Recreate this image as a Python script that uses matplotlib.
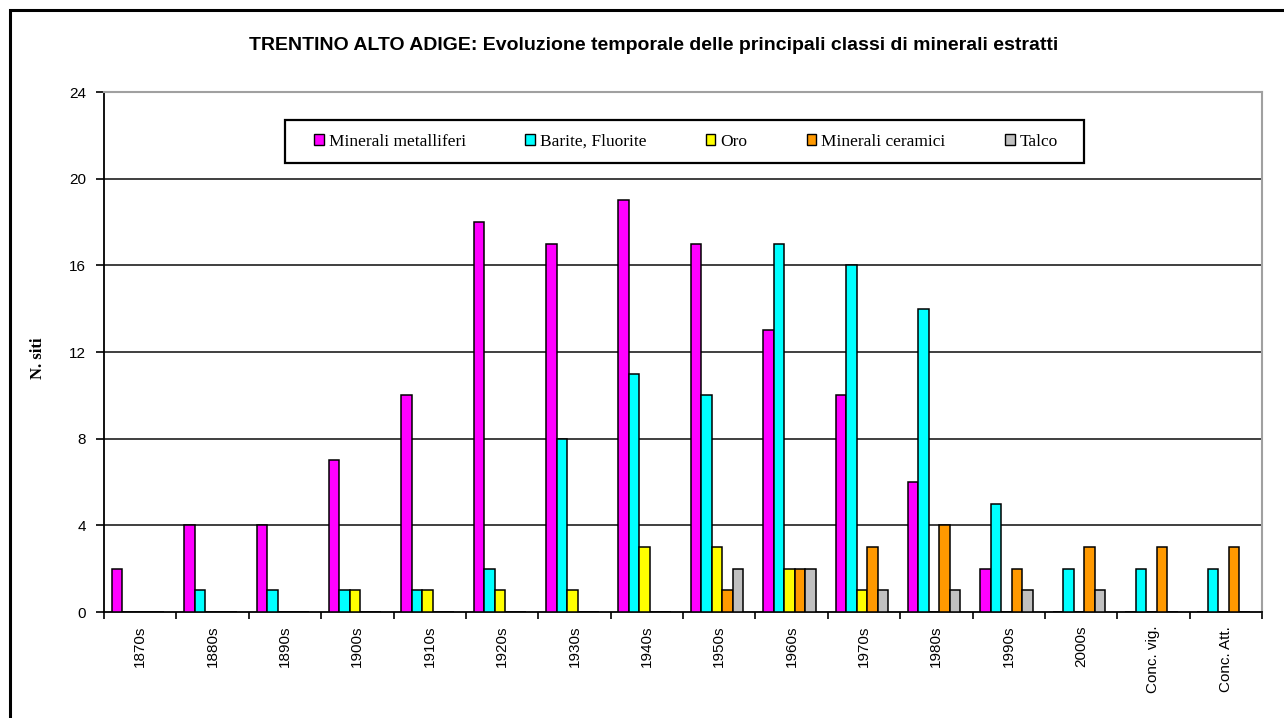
import numpy as np
import matplotlib
matplotlib.use("Agg")
import matplotlib.pyplot as plt
from matplotlib.patches import Patch, Rectangle

categories = ["1870s", "1880s", "1890s", "1900s", "1910s", "1920s", "1930s",
              "1940s", "1950s", "1960s", "1970s", "1980s", "1990s", "2000s",
              "Conc. vig.", "Conc. Att."]

series_names = ["Minerali metalliferi", "Barite, Fluorite", "Oro",
                "Minerali ceramici", "Talco"]

metalliferi = [2, 4, 4, 7, 10, 18, 17, 19, 17, 13, 10, 6, 2, 0, 0, 0]
barite_fluorite = [0, 1, 1, 1, 1, 2, 8, 11, 10, 17, 16, 14, 5, 2, 2, 2]
oro = [0, 0, 0, 1, 1, 1, 1, 3, 3, 2, 1, 0, 0, 0, 0, 0]
ceramici = [0, 0, 0, 0, 0, 0, 0, 0, 1, 2, 3, 4, 2, 3, 3, 3]
talco = [0, 0, 0, 0, 0, 0, 0, 0, 2, 2, 1, 1, 1, 1, 0, 0]

colors = ["#FF00FF", "#00FFFF", "#FFFF00", "#FF9900", "#C0C0C0"]
y_ticks = [0, 4, 8, 12, 16, 20, 24]

W, H = 1284, 718
fig = plt.figure(figsize=(W / 100, H / 100), dpi=100)
fig.patch.set_facecolor("white")

# outer chart frame (left and top edges visible)
fig.patches.append(Rectangle((10 / W, -0.2), 1.2, 1 - 10 / H + 0.2,
                             transform=fig.transFigure, fill=False,
                             edgecolor="black", linewidth=2.2, zorder=0))

ax_l, ax_r, ax_t, ax_b = 104, 1262, 92, 612
ax = fig.add_axes([ax_l / W, 1 - ax_b / H, (ax_r - ax_l) / W, (ax_b - ax_t) / H])

x = np.arange(len(categories))
bar_w = 0.145
all_series = [metalliferi, barite_fluorite, oro, ceramici, talco]
for i, (vals, col) in enumerate(zip(all_series, colors)):
    offs = (i - 2.2) * bar_w
    ax.bar(x + offs, vals, width=bar_w, color=col, edgecolor="black",
           linewidth=1.1, zorder=3)

ax.set_xlim(-0.5, len(categories) - 0.5)
ax.set_ylim(0, 24)
ax.set_yticks(y_ticks)
ax.set_yticklabels([str(v) for v in y_ticks], fontsize=11,
                   family="Liberation Sans")
for v in y_ticks[1:-1]:
    ax.axhline(v, color="#303030", linewidth=1.3, zorder=1)

ax.set_xticks(x)
ax.set_xticklabels(categories, rotation=90, fontsize=11,
                   family="Liberation Sans", va="top")
ax.set_xticks(np.arange(len(categories) + 1) - 0.5, minor=True)
ax.tick_params(axis="x", which="major", length=0, pad=10)
ax.tick_params(axis="x", which="minor", length=5, width=1.2, direction="out")
ax.tick_params(axis="y", length=6, width=1.2, direction="out", pad=7)

for side in ["top", "right"]:
    ax.spines[side].set_color("#a0a0a0")
    ax.spines[side].set_linewidth(1.5)
for side in ["left", "bottom"]:
    ax.spines[side].set_color("black")
    ax.spines[side].set_linewidth(1.3)

ax.set_ylabel("N. siti", fontsize=12, fontweight="bold",
              family="Liberation Serif")
ax.yaxis.set_label_coords((46 - ax_l) / (ax_r - ax_l), (ax_b - 358) / (ax_b - ax_t))

fig.text(654 / W, 1 - 45 / H, "TRENTINO ALTO ADIGE: Evoluzione temporale delle "
         "principali classi di minerali estratti", ha="center", va="center",
         fontsize=14, fontweight="bold", family="Liberation Sans")

def to_ax(px, py):
    return (px - ax_l) / (ax_r - ax_l), (ax_b - py) / (ax_b - ax_t)

# legend frame
(lx0, ly0), (lx1, ly1) = to_ax(285, 163), to_ax(1084, 120)
ax.add_patch(Rectangle((lx0, ly0), lx1 - lx0, ly1 - ly0, transform=ax.transAxes,
                       facecolor="white", edgecolor="black", linewidth=1.6,
                       zorder=5, clip_on=False))

handles = [Patch(facecolor=c, edgecolor="black", linewidth=1.0) for c in colors]
(ex0, ey0), (ex1, ey1) = to_ax(314, 163), to_ax(1058, 120)
leg = ax.legend(handles, series_names, ncol=5, mode="expand",
                bbox_to_anchor=(ex0, ey0, ex1 - ex0, ey1 - ey0), loc="center",
                prop={"family": "Liberation Serif", "size": 12.5},
                handlelength=0.55, handleheight=0.55, handletextpad=0.3,
                frameon=False, borderaxespad=0, borderpad=0)
leg.set_zorder(6)

fig.savefig("out.png", dpi=100, facecolor="white")
